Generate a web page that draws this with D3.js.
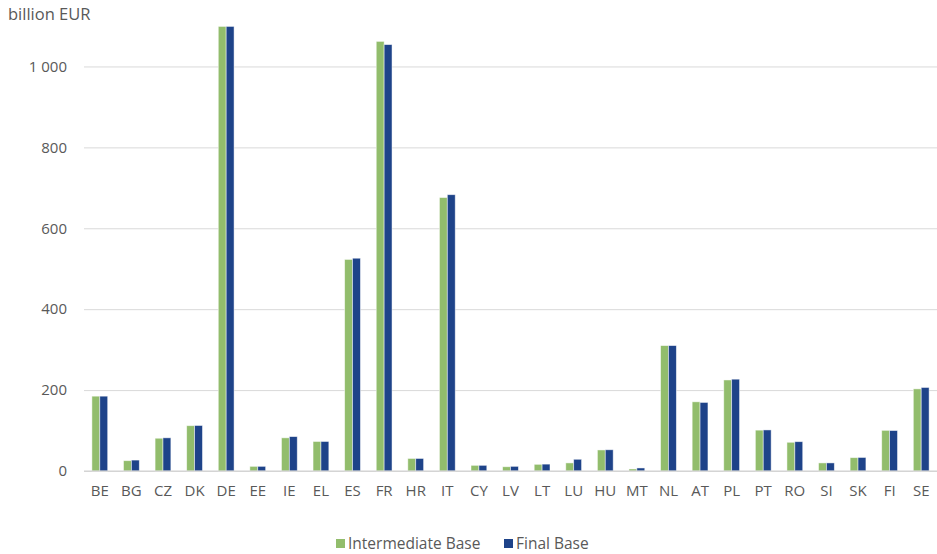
<!DOCTYPE html>
<head>
    <meta charset="utf-8">
    <script src="https://d3js.org/d3.v7.min.js"></script>
    <style>
      body { margin: 0; background: #fff; }
      text { font-family: "Open Sans", sans-serif; fill: #595959; }
      .tick text { font-size: 15px; }
      .unit { font-size: 16.5px; }
      .legend text { font-size: 15.5px; }
    </style>
</head>
<body>
    <script>
        var countries = ["BE","BG","CZ","DK","DE","EE","IE","EL","ES","FR","HR","IT","CY","LV","LT","LU","HU","MT","NL","AT","PL","PT","RO","SI","SK","FI","SE"]
        var intermediateBase = [185,25.5,81,112,1099,11.5,82,73,523,1062,31,676,14,10.5,16.5,20,52,5,310,171,225,101,71,20,33,100.5,203]
        var finalBase = [185,27,82,112.5,1099,11.5,85,73,526,1054,31,683,14,11.5,17,29,52.5,7.5,310,169.5,227,101.5,72.5,20,33.5,100,206.5]
        var seriesNames = ["Intermediate Base","Final Base"]
        var seriesColors = ["#92bd6c","#1e4389"]
        var yTicks = [0,200,400,600,800,1000]

        var svg_w = 937, svg_h = 554
        var svg = d3.select("body").append("svg")
          .attr("width", svg_w)
          .attr("height", svg_h)

        var plotLeft = 84, plotRight = 937, plotTop = 26, plotBottom = 471

        var tableData = countries.map(function(c, i){
          return {country: c, values: [intermediateBase[i], finalBase[i]]}
        })

        var x = d3.scaleBand().domain(countries).range([plotLeft, plotRight]).paddingInner(0).paddingOuter(0)
        var xInner = d3.scaleBand().domain([0,1]).range([0, x.bandwidth()]).paddingOuter(1.0).paddingInner(0)
        var y = d3.scaleLinear().domain([0, 1100]).range([plotBottom, plotTop])

        var fmt = d3.formatLocale({decimal: ".", thousands: " ", grouping: [3], currency: ["", ""]}).format(",")

        // gridlines
        var grid = svg.append("g")
          .attr("transform", "translate(" + plotLeft + ",0)")
          .call(d3.axisLeft(y).tickValues(yTicks).tickSize(-(plotRight - plotLeft)).tickFormat(""))
        grid.select(".domain").remove()
        grid.selectAll("line").attr("stroke", "#d9d9d9").attr("stroke-width", 1)

        // y labels
        var yAxis = svg.append("g")
          .attr("transform", "translate(67,0)")
          .call(d3.axisLeft(y).tickValues(yTicks).tickSize(0).tickPadding(0).tickFormat(fmt))
        yAxis.select(".domain").remove()

        // bars
        var groups = svg.selectAll(".country")
          .data(tableData)
          .enter().append("g")
          .attr("class", "country")
          .attr("transform", function(d){ return "translate(" + x(d.country) + ",0)" })
        groups.selectAll("rect")
          .data(function(d){ return d.values.map(function(v, k){ return {k: k, v: v} }) })
          .enter().append("rect")
          .attr("x", function(d){ return xInner(d.k) })
          .attr("width", xInner.bandwidth())
          .attr("y", function(d){ return y(d.v) })
          .attr("height", function(d){ return y(0) - y(d.v) })
          .attr("fill", function(d){ return seriesColors[d.k] })
          .attr("stroke", "#ffffff")
          .attr("stroke-opacity", 0.6)
          .attr("stroke-width", 0.8)

        // baseline
        svg.append("line")
          .attr("x1", plotLeft).attr("x2", plotRight)
          .attr("y1", y(0)).attr("y2", y(0))
          .attr("stroke", "#d0d0d0")

        // x labels
        var xAxis = svg.append("g")
          .attr("transform", "translate(0," + plotBottom + ")")
          .call(d3.axisBottom(x).tickSize(0).tickPadding(14))
        xAxis.select(".domain").remove()

        svg.append("text")
          .attr("class", "unit")
          .attr("x", 8).attr("y", 20)
          .text("billion EUR")

        // legend
        var legendX = [336, 504]
        var legend = svg.append("g").attr("class", "legend")
        seriesNames.forEach(function(name, i){
          legend.append("rect")
            .attr("x", legendX[i]).attr("y", 539)
            .attr("width", 9).attr("height", 9)
            .attr("fill", seriesColors[i])
          legend.append("text")
            .attr("x", legendX[i] + 12).attr("y", 549)
            .text(name)
        })
    </script>
</body>
